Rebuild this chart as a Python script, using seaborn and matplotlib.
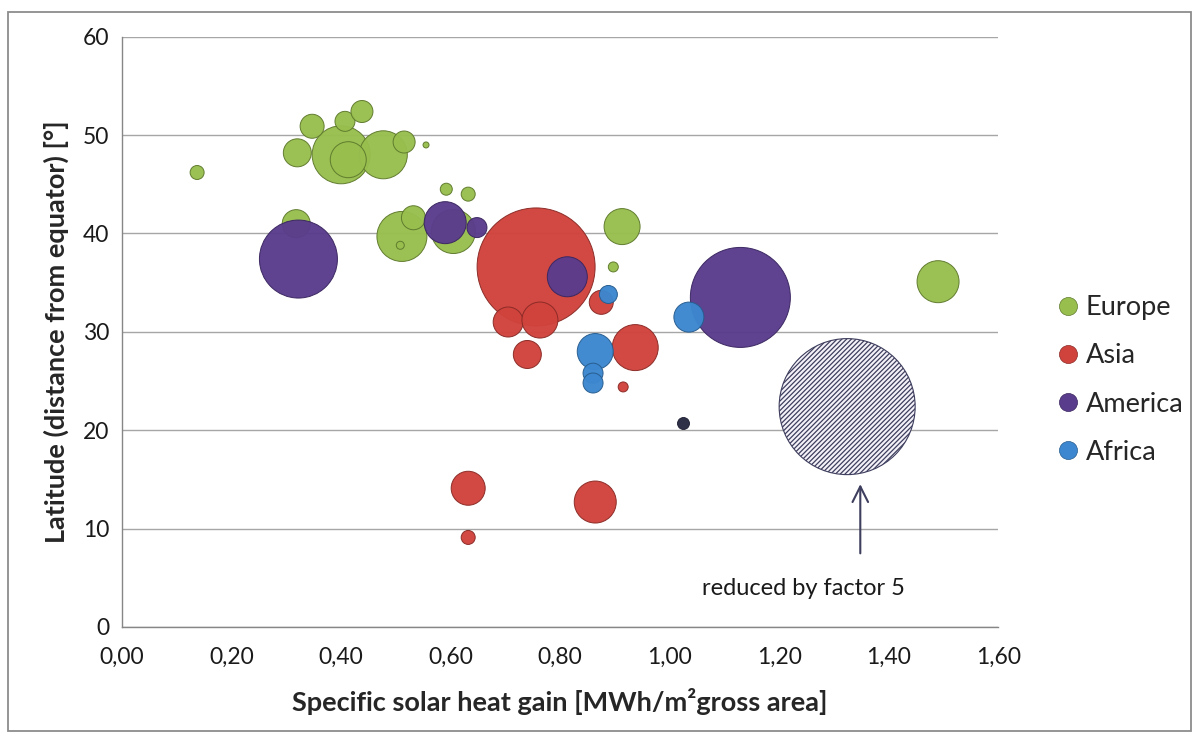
import numpy as np
import pandas as pd
import seaborn as sns
import matplotlib.pyplot as plt
from matplotlib.lines import Line2D
from matplotlib.patches import Rectangle
from matplotlib.ticker import FuncFormatter

# bubble data: x = specific solar heat gain, y = latitude, area = relative bubble area
eu_x = [0.137, 0.400, 0.477, 0.320, 0.347, 0.407, 0.438, 0.413, 0.515, 0.555, 0.592, 0.632,
        0.318, 0.511, 0.532, 0.508, 0.605, 0.913, 0.897, 1.490]
eu_y = [46.2, 48.0, 48.0, 48.2, 50.9, 51.4, 52.4, 47.5, 49.3, 49.0, 44.5, 44.0,
        41.0, 39.7, 41.6, 38.8, 40.2, 40.7, 36.6, 35.1]
eu_area = [49, 841, 576, 196, 144, 100, 121, 324, 121, 9, 36, 49,
           196, 625, 144, 16, 484, 324, 25, 441]

as_x = [0.756, 0.705, 0.763, 0.740, 0.875, 0.937, 0.915, 0.632, 0.864, 0.632]
as_y = [36.6, 31.0, 31.2, 27.7, 33.0, 28.4, 24.4, 14.1, 12.7, 9.1]
as_area = [3481, 225, 324, 196, 144, 529, 25, 289, 441, 49]

am_x = [0.322, 0.590, 0.648, 0.813, 1.129]
am_y = [37.4, 41.1, 40.6, 35.6, 33.5]
am_area = [1521, 441, 100, 400, 2500]

af_x = [0.888, 0.864, 0.860, 0.860, 1.035]
af_y = [33.8, 28.0, 25.8, 24.8, 31.5]
af_area = [81, 324, 100, 100, 225]

# unlabelled small dark point and the reduced (by factor 5) bubble
dark_x, dark_y, dark_area = [1.025], [20.7], [36]
red5_x, red5_y, red5_area = [1.324], [22.4], [4624]

regions = ['Europe', 'Asia', 'America', 'Africa']
colors = {'Europe': '#98BE4E', 'Asia': '#D0433C', 'America': '#5A3C8C', 'Africa': '#3C87CF'}
edges = {'Europe': '#5E7A2C', 'Asia': '#8A2A26', 'America': '#3A2660', 'Africa': '#275C8E'}

frames = []
for name, xs, ys, ar in [('Europe', eu_x, eu_y, eu_area), ('Asia', as_x, as_y, as_area),
                         ('America', am_x, am_y, am_area), ('Africa', af_x, af_y, af_area)]:
    frames.append(pd.DataFrame({'x': xs, 'y': ys, 'area': ar, 'region': name}))

AMAX = 5000
SMAX = AMAX * (2 * 0.72) ** 2  # px^2 of radius -> points^2 of marker at 100 dpi

sns.set_style('white')
plt.rcParams['font.family'] = ['Lato', 'DejaVu Sans']

fig = plt.figure(figsize=(11.97, 7.35), dpi=100)
ax = fig.add_axes([0.102, 0.147, 0.732, 0.803])

for df in frames:
    reg = df['region'].iloc[0]
    sns.scatterplot(data=df, x='x', y='y', size='area', sizes=(0, SMAX), size_norm=(0, AMAX),
                    color=colors[reg], edgecolor=edges[reg], linewidth=0.7, alpha=0.97,
                    legend=False, ax=ax, zorder=3)

dark = pd.DataFrame({'x': dark_x, 'y': dark_y, 'area': dark_area})
sns.scatterplot(data=dark, x='x', y='y', size='area', sizes=(0, SMAX), size_norm=(0, AMAX),
                color='#2E3048', edgecolor='#1c1c30', linewidth=0.6, legend=False, ax=ax, zorder=3)

plt.rcParams['hatch.linewidth'] = 0.9
red5 = pd.DataFrame({'x': red5_x, 'y': red5_y, 'area': red5_area})
sns.scatterplot(data=red5, x='x', y='y', size='area', sizes=(0, SMAX), size_norm=(0, AMAX),
                facecolor='#F4F2F8', edgecolor='#3E3E5E', hatch='///////', linewidth=0.8,
                legend=False, ax=ax, zorder=3)

ax.annotate('', xy=(1.348, 14.8), xytext=(1.348, 7.2),
            arrowprops=dict(arrowstyle='->', color='#3E3E5E', lw=1.5, mutation_scale=28))
ax.text(1.244, 3.9, 'reduced by factor 5', ha='center', va='center', fontsize=17, color='#1a1a1a')

ax.set_xlim(0, 1.6)
ax.set_ylim(0, 60)
ax.set_xticks(np.arange(0, 1.61, 0.2))
ax.set_yticks(np.arange(0, 61, 10))
ax.xaxis.set_major_formatter(FuncFormatter(lambda v, p: f'{v:.2f}'.replace('.', ',')))
ax.grid(axis='y', color='#A6A6A6', lw=1.0, zorder=0)
ax.grid(axis='x', visible=False)
ax.set_axisbelow(True)
for s in ['top', 'right']:
    ax.spines[s].set_visible(False)
for s in ['left', 'bottom']:
    ax.spines[s].set_color('#868686')
    ax.spines[s].set_linewidth(1.0)
ax.tick_params(axis='both', which='both', length=4, width=1, color='#868686',
               labelsize=16.5, labelcolor='#1a1a1a')
ax.tick_params(axis='x', direction='in', length=5, pad=14)
ax.tick_params(axis='y', direction='out', pad=5)

ax.set_xlabel('Specific solar heat gain [MWh/m²gross area]', fontsize=19.5, fontweight='bold', labelpad=15)
ax.set_ylabel('Latitude (distance from equator) [°]', fontsize=19.5, fontweight='bold', labelpad=10)

handles = [Line2D([], [], marker='o', linestyle='', markersize=13, markerfacecolor=colors[r],
                  markeredgecolor=edges[r], markeredgewidth=0.5, label=r) for r in regions]
fig.legend(handles=handles, loc='center left', bbox_to_anchor=(0.872, 0.483), frameon=False,
           fontsize=19.5, labelspacing=0.86, handletextpad=0.15, handlelength=1.0, borderaxespad=0)

fig.patches.append(Rectangle((8 / 1197, 1 - 731 / 735), 1183 / 1197, 719 / 735,
                             transform=fig.transFigure, fill=False, edgecolor='#8C8C8C', lw=1.3))

fig.savefig('out.png', dpi=100)
